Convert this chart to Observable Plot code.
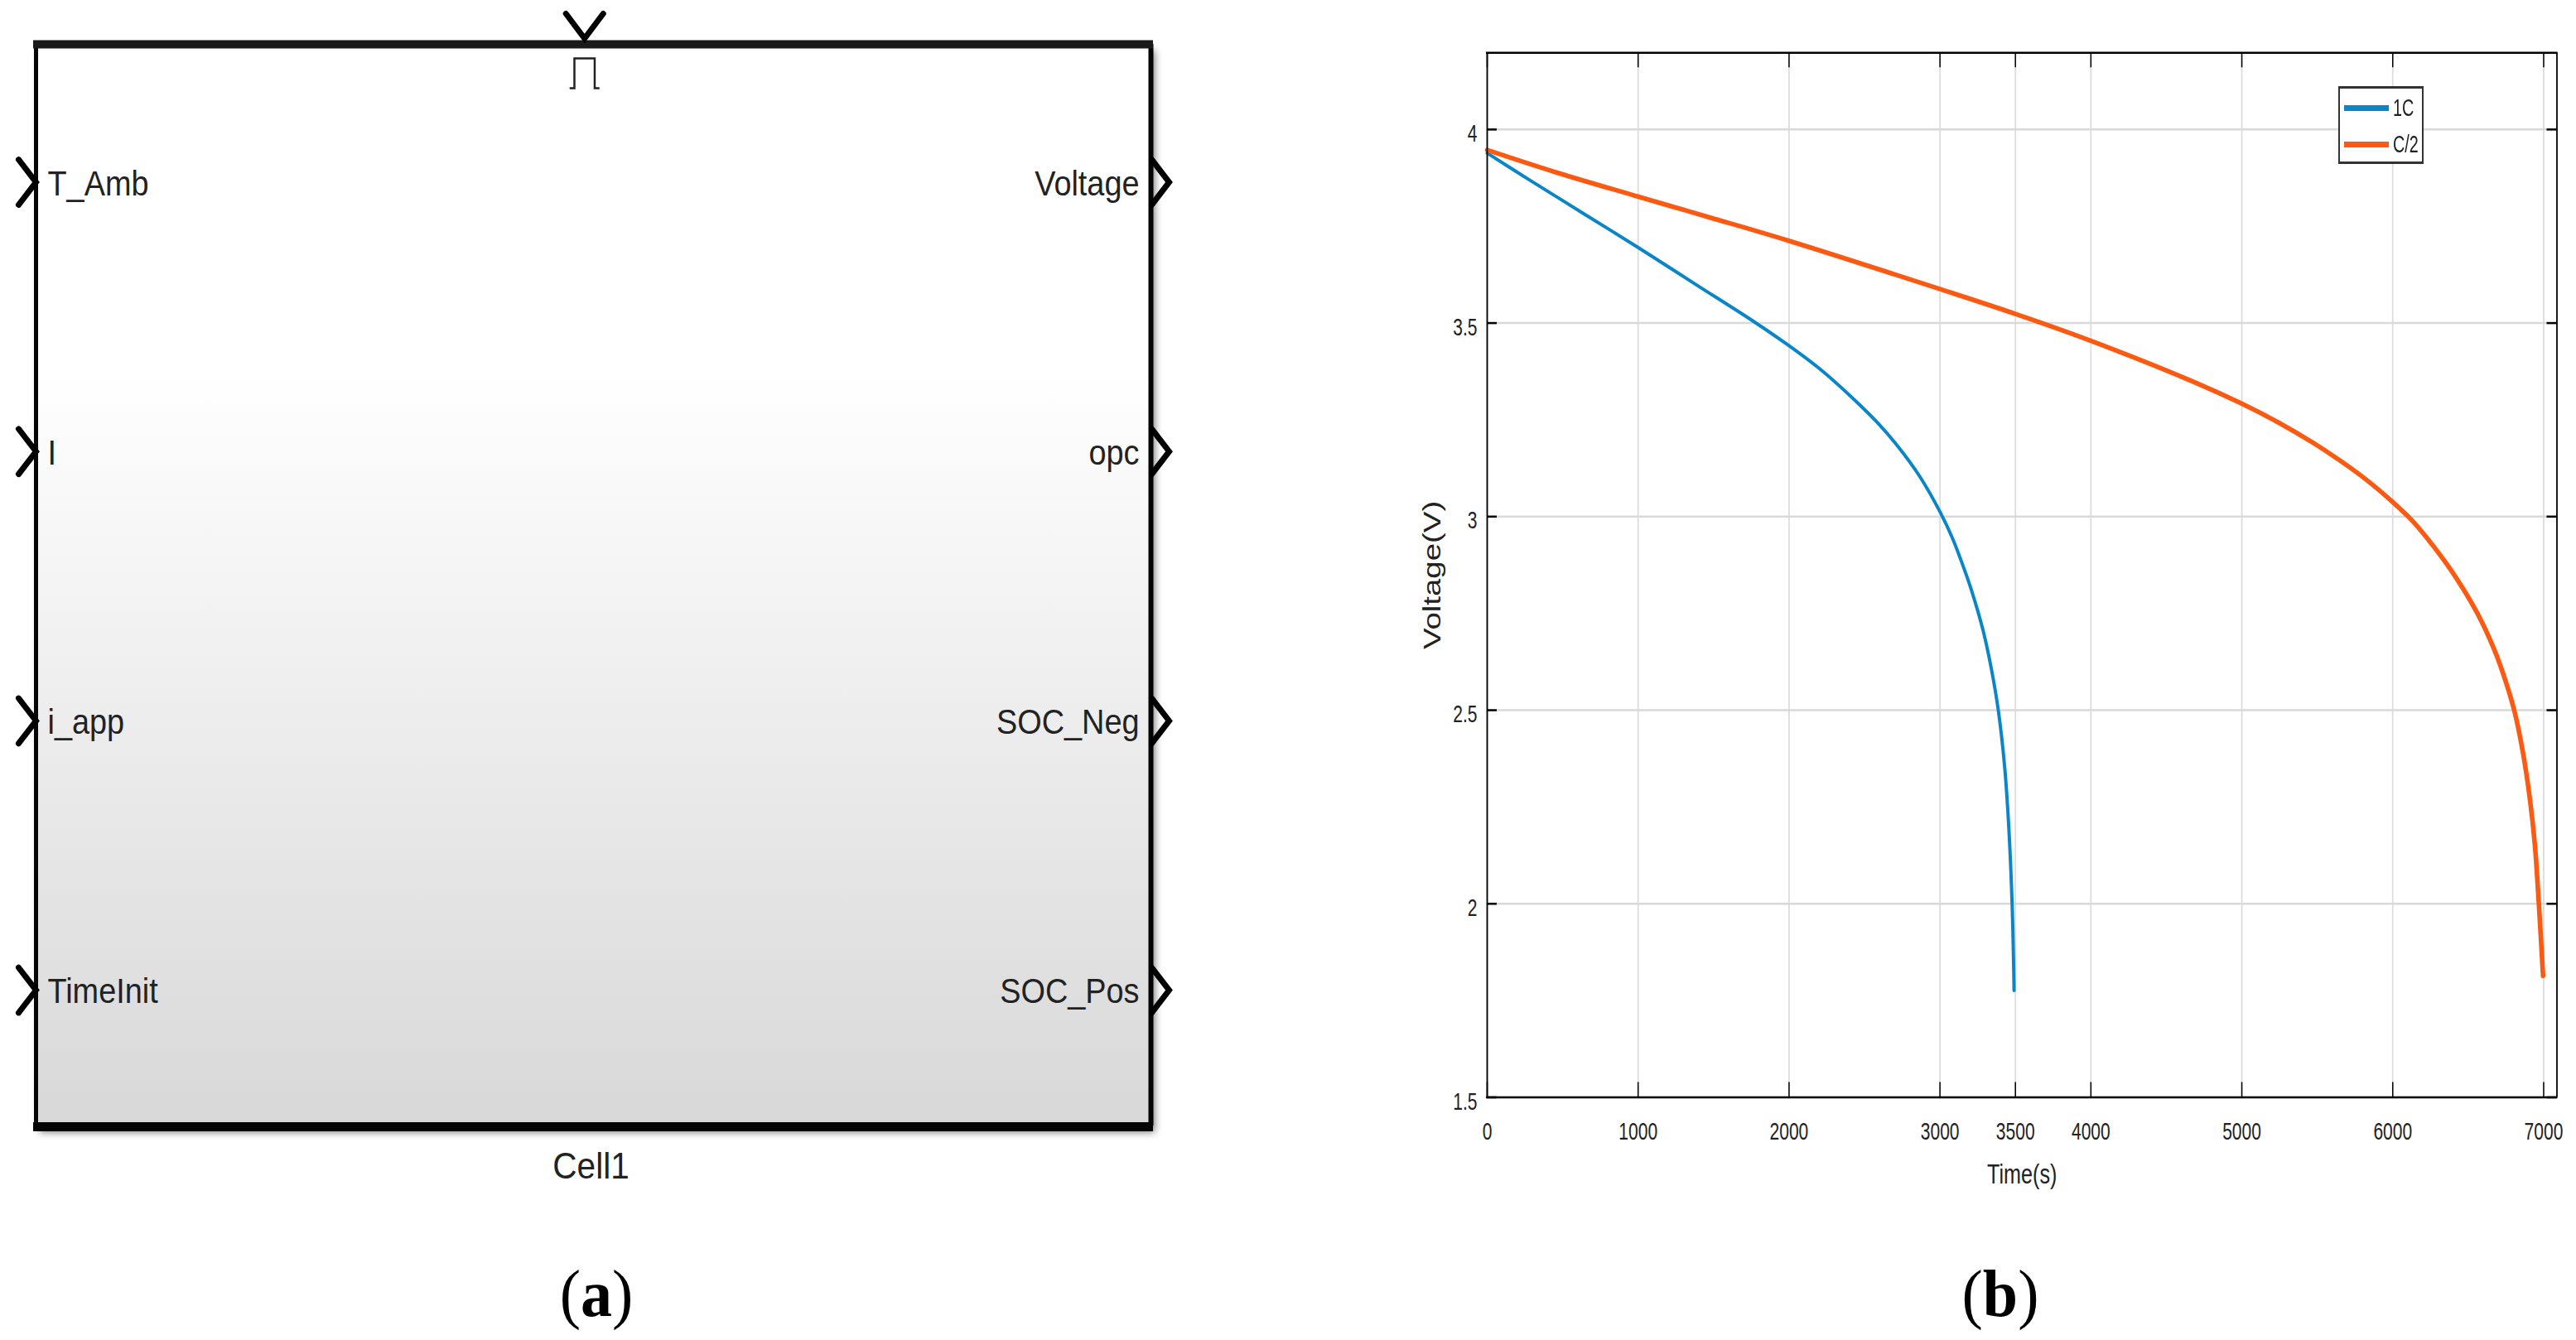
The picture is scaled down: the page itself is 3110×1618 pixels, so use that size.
<!DOCTYPE html>
<html>
<head>
<meta charset="utf-8">
<style>
  html, body { margin: 0; padding: 0; background: #fff; overflow: hidden; }
  #page { position: relative; width: 3110px; height: 1618px; display: flex; }
  #page svg { display: block; flex: none; }
  .caption { position: absolute; top: 1516px; width: 200px; text-align: center; font: 80px/92px "Liberation Serif", serif; color: #000; transform: scaleX(0.95); }
  #legend { position: absolute; left: 2823px; top: 104px; width: 99px; height: 88px; background: #fff; border: solid #333; border-width: 3px 2px; }
  .row { position: absolute; left: 5px; height: 30px; display: flex; align-items: center; }
  .swatch { width: 54px; height: 7px; flex: none; }
  .row span { font: 30px/30px "Liberation Sans", sans-serif; color: #222; margin-left: 5px; transform: scaleX(0.66); transform-origin: left center; display: inline-block; }
</style>
<script src="https://cdn.jsdelivr.net/npm/d3@7"></script>
<script src="https://cdn.jsdelivr.net/npm/@observablehq/plot@0.6"></script>
</head>
<body>
<div id="page"></div>
<script>
// ---- Panel (b): discharge curves ----
const t1C = [0, 283, 650, 997, 1381, 1766, 1994, 2224, 2443, 2590, 2718, 2864, 3002, 3083, 3148, 3202, 3285, 3340, 3386, 3428, 3454, 3478, 3491];
const v1C = [3.939, 3.869, 3.780, 3.696, 3.600, 3.504, 3.443, 3.375, 3.298, 3.241, 3.183, 3.105, 3.011, 2.944, 2.878, 2.818, 2.707, 2.608, 2.501, 2.356, 2.211, 2.0, 1.776];
const tC2 = [0, 467, 997, 1473, 1994, 2998, 3497, 3994, 4694, 4993, 5243, 5463, 5646, 5829, 5999, 6121, 6222, 6396, 6561, 6671, 6753, 6808, 6863, 6909, 6942, 6968, 6996];
const vC2 = [3.947, 3.888, 3.827, 3.773, 3.713, 3.588, 3.524, 3.455, 3.346, 3.293, 3.243, 3.193, 3.146, 3.094, 3.038, 2.993, 2.947, 2.856, 2.750, 2.658, 2.569, 2.495, 2.390, 2.270, 2.151, 2.0, 1.814];
const xTicks = [0, 1000, 2000, 3000, 3500, 4000, 5000, 6000, 7000];
const yTicks = [1.5, 2, 2.5, 3, 3.5, 4];
const seriesNames = ["1C", "C/2"];
const seriesColors = ["#0a86c8", "#fc5a12"];
const xDomain = [0, 7088];
const yDomain = [1.5, 4.198];

// ---- Panel (a): Simulink block ----
const portsIn = ["T_Amb", "I", "i_app", "TimeInit"];
const portsOut = ["Voltage", "opc", "SOC_Neg", "SOC_Pos"];
const blockName = ["Cell1"];
const rowDomain = [-0.512, 3.504];
const gradientStops = [[0, "#ffffff"], [0.3, "#ffffff"], [1, "#d8d8d8"]];
const captions = ["a", "b"];

const font = '"Liberation Sans", Arial, sans-serif';

// ---- symbols ----
const chevron = (span) => ({
  draw(c, size) {
    const r = Math.sqrt(size / Math.PI);
    c.moveTo(-r, -span * r);
    c.lineTo(0, 0);
    c.lineTo(-r, span * r);
  }
});
const pulse = {
  draw(c, size) {
    const r = Math.sqrt(size / Math.PI);
    c.moveTo(-r, r); c.lineTo(-0.68 * r, r); c.lineTo(-0.68 * r, -r);
    c.lineTo(0.68 * r, -r); c.lineTo(0.68 * r, r); c.lineTo(r, r);
  }
};

// ---- gradient for the block face ----
const defsMark = () => {
  const g = d3.create("svg:defs");
  const lg = g.append("linearGradient").attr("id", "blockFace").attr("x1", 0).attr("x2", 0).attr("y1", 0).attr("y2", 1);
  gradientStops.forEach(([o, c]) => lg.append("stop").attr("offset", o).attr("stop-color", c));
  return g.node();
};

const face = [{ x1: 0, x2: 1, y1: rowDomain[0], y2: rowDomain[1] }];
const rowsIn = portsIn.map((name, row) => ({ name, row }));
const rowsOut = portsOut.map((name, row) => ({ name, row }));

const plotA = Plot.plot({
  width: 1700, height: 1618,
  marginLeft: 43, marginRight: 311, marginTop: 53, marginBottom: 259,
  x: { domain: [0, 1], axis: null },
  y: { domain: rowDomain, reverse: true, axis: null },
  style: { background: "#fff", overflow: "visible", fontFamily: font },
  marks: [
    defsMark,
    Plot.rect(face, { x1: "x1", x2: "x2", y1: "y1", y2: "y2", fill: "#777", dx: 5, dy: 8, imageFilter: "blur(5px)" }),
    Plot.rect(face, { x1: "x1", x2: "x2", y1: "y1", y2: "y2", fill: "url(#blockFace)" }),
    Plot.ruleX([0], { stroke: "#050505", strokeWidth: 5 }),
    Plot.ruleX([1], { stroke: "#050505", strokeWidth: 6 }),
    Plot.ruleY([rowDomain[0]], { stroke: "#1a1a1a", strokeWidth: 10, insetLeft: -3, insetRight: -3 }),
    Plot.ruleY([rowDomain[1]], { stroke: "#050505", strokeWidth: 11, insetLeft: -3, insetRight: -3, dy: 1 }),
    Plot.dot(rowsIn, { x: () => 0, y: "row", symbol: chevron(1.3), r: 21, fill: "none", stroke: "#000", strokeWidth: 7, strokeLinecap: "round" }),
    Plot.dot(rowsOut, { x: () => 1, y: "row", symbol: chevron(1.3), r: 21, dx: 22, fill: "none", stroke: "#000", strokeWidth: 7, strokeLinecap: "round" }),
    Plot.dot([0.492], { x: d => d, y: () => rowDomain[0], symbol: chevron(0.75), r: 30, rotate: 90, dy: -7, fill: "none", stroke: "#000", strokeWidth: 7, strokeLinecap: "round" }),
    Plot.dot([0.492], { x: d => d, y: () => rowDomain[0], symbol: pulse, r: 18, dy: 35, fill: "none", stroke: "#222", strokeWidth: 2.5 }),
    Plot.text(rowsIn, { x: () => 0, y: "row", text: "name", dx: 14, dy: 2, textAnchor: "start", fontSize: 43, fill: "#222", className: "port-label" }),
    Plot.text(rowsOut, { x: () => 1, y: "row", text: "name", dx: -14, dy: 2, textAnchor: "end", fontSize: 43, fill: "#222", className: "port-label" }),
    Plot.text(blockName, { x: () => 0.5, y: () => rowDomain[1], text: d => d, dx: -3, dy: 49, fontSize: 45, fill: "#222", className: "block-name" })
  ]
});

const frameCommon = { stroke: "#000" };
const plotHeight = 1618, frameH = 1324.5 - 63.3;
const plotB = Plot.plot({
  width: 1410, height: plotHeight,
  marginLeft: 95, marginRight: 23.5, marginTop: 63.3, marginBottom: plotHeight - 1324.5,
  x: { domain: xDomain },
  y: { domain: yDomain },
  style: { background: "#fff", overflow: "visible", fontFamily: font },
  marks: [
    Plot.ruleX(xTicks, { x: d => d, stroke: "#dcdcdc", strokeWidth: 1.8 }),
    Plot.ruleY(yTicks, { y: d => d, stroke: "#d9d9d9", strokeWidth: 2.5 }),
    Plot.ruleX(xTicks, { x: d => d, insetTop: frameH - 18, ...frameCommon, strokeWidth: 1.5 }),
    Plot.ruleX(xTicks, { x: d => d, insetBottom: frameH - 18, ...frameCommon, strokeWidth: 1.5 }),
    Plot.ruleY(yTicks, { y: d => d, insetRight: 1291.5 - 12, ...frameCommon, strokeWidth: 2.5 }),
    Plot.ruleY(yTicks, { y: d => d, insetLeft: 1291.5 - 12, ...frameCommon, strokeWidth: 2.5 }),
    Plot.line(t1C.map((t, i) => ({ t, v: v1C[i] })), { x: "t", y: "v", stroke: seriesColors[0], strokeWidth: 4, curve: "catmull-rom" }),
    Plot.line(tC2.map((t, i) => ({ t, v: vC2[i] })), { x: "t", y: "v", stroke: seriesColors[1], strokeWidth: 5.6, curve: "catmull-rom" }),
    Plot.ruleX([xDomain[0], xDomain[1]], { x: d => d, ...frameCommon, strokeWidth: 1.8 }),
    Plot.ruleY([yDomain[0], yDomain[1]], { y: d => d, ...frameCommon, strokeWidth: 2.6, insetLeft: -1, insetRight: -1 }),
    Plot.axisX(xTicks, { anchor: "bottom", tickSize: 0, tickPadding: 30, fontSize: 30, fill: "#222", tickFormat: d => String(d), label: "Time(s)", labelAnchor: "center", labelArrow: "none", labelOffset: 104 }),
    Plot.axisY(yTicks, { anchor: "left", tickSize: 0, tickPadding: 12, fontSize: 30, fill: "#222", dy: 5, tickFormat: d => String(d), label: "Voltage(V)", labelAnchor: "center", labelArrow: "none", labelOffset: 78 })
  ]
});

const page = document.getElementById("page");
page.append(plotA, plotB);

// The reference's text is condensed or stretched by its image scaling.
function fit(root, selector, factor, fontSize) {
  root.querySelectorAll(selector).forEach(t => {
    if (fontSize) t.setAttribute("font-size", fontSize);
    const len = t.getComputedTextLength();
    t.setAttribute("textLength", len * factor);
    t.setAttribute("lengthAdjust", "spacingAndGlyphs");
  });
}
fit(plotA, ".port-label text", 0.88);
fit(plotA, ".block-name text", 0.9);
fit(plotB, '[aria-label="x-axis tick label"] text', 0.7);
fit(plotB, '[aria-label="y-axis tick label"] text', 0.7);
fit(plotB, '[aria-label="x-axis label"] text', 0.74, 34);
fit(plotB, '[aria-label="y-axis label"] text', 1.28);

// Legend
const legend = document.createElement("div");
legend.id = "legend";
seriesNames.forEach((name, i) => {
  const row = document.createElement("div");
  row.className = "row";
  row.style.top = (i === 0 ? 8 : 52) + "px";
  const sw = document.createElement("div");
  sw.className = "swatch";
  sw.style.background = seriesColors[i];
  const label = document.createElement("span");
  label.textContent = name;
  row.append(sw, label);
  legend.append(row);
});
page.append(legend);

// Panel captions
captions.forEach((letter, i) => {
  const cap = document.createElement("div");
  cap.className = "caption";
  cap.style.left = (i === 0 ? 620 : 2315) + "px";
  cap.append("(");
  const b = document.createElement("b");
  b.textContent = letter;
  cap.append(b, ")");
  page.append(cap);
});
</script>
</body>
</html>
